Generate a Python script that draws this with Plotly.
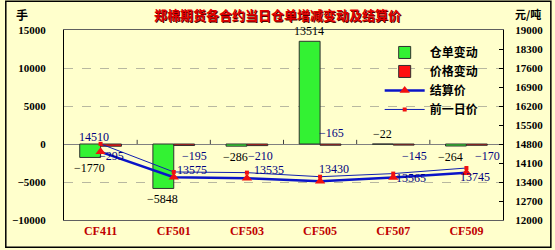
import plotly.graph_objects as go

# ---- data ----
categories = ["CF411", "CF501", "CF503", "CF505", "CF507", "CF509"]
receipt_change = [-1770, -5848, -286, 13514, -22, -264]      # 仓单变动 (手)
price_change = [-295, -195, -210, -165, -145, -170]          # 价格变动 (元/吨)
settle_price = [14510, 13575, 13535, 13430, 13565, 13745]    # 结算价
prev_price = [s - c for s, c in zip(settle_price, price_change)]  # 前一日价

left_ticks = [-10000, -5000, 0, 5000, 10000, 15000]
right_ticks = list(range(12000, 19001, 700))

# ---- layout constants ----
W, H = 555, 250
ML, MR, MT, MB = 60, 50, 30, 29
PW, PH = W - ML - MR, H - MT - MB

NAVY = "#000080"
SERIF = "Liberation Serif"
CJK = "Noto Sans CJK SC"

# label offsets (pixels) for the settlement-price labels
SETTLE_OFFS = {0: (-7, 15), 1: (18, 7), 2: (22, 8), 3: (14, 12), 4: (18, 0), 5: (9, -4)}

fig = go.Figure()

fig.add_trace(go.Bar(
    x=categories, y=receipt_change, name="仓单变动",
    marker=dict(color="#33F233", line=dict(color="#303030", width=1)),
    yaxis="y",
))
fig.add_trace(go.Bar(
    x=categories, y=price_change, name="价格变动",
    marker=dict(color="#FF1010", line=dict(color="#303030", width=1)),
    yaxis="y",
))
fig.add_trace(go.Scatter(
    x=categories, y=settle_price, name="结算价", yaxis="y2",
    mode="lines+markers",
    line=dict(color="#0A14C8", width=2.5),
    marker=dict(symbol="triangle-up", size=9, color="#F01010"),
))
fig.add_trace(go.Scatter(
    x=categories, y=prev_price, name="前一日价", yaxis="y2",
    mode="lines+markers",
    line=dict(color="#1020B0", width=1),
    marker=dict(symbol="square", size=4, color="#F01010"),
))

ann = []
lab_font = dict(family=SERIF, size=12, color="black")
nav_font = dict(family=SERIF, size=12, color=NAVY)

def minus(v):
    return f"{v}".replace("-", "−")

# 仓单变动 labels
for i, (c, v) in enumerate(zip(categories, receipt_change)):
    above = v > 0 or abs(v) < 100
    ann.append(dict(x=c, y=v if v > 0 else (0 if above else v), xref="x", yref="y",
                    text=minus(v), showarrow=False, font=lab_font,
                    xshift=-16 if i == len(categories) - 1 else -11,
                    yshift=10 if above else -11))

# 价格变动 labels
for i, (c, v) in enumerate(zip(categories, price_change)):
    up = receipt_change[i] > 10000
    xs = 11 if i == 0 else (14 if i == 2 else (11 if up else 21))
    ann.append(dict(x=c, y=0, xref="x", yref="y",
                    text=minus(v), showarrow=False, font=nav_font,
                    xshift=xs, yshift=11 if up else -12))

# 结算价 labels
for i, (c, v) in enumerate(zip(categories, settle_price)):
    xs, ys = SETTLE_OFFS[i]
    ann.append(dict(x=c, y=v, xref="x", yref="y2", text=str(v), showarrow=False,
                    font=nav_font, xshift=xs, yshift=ys))

# axis unit labels
ann.append(dict(x=-(ML - 17) / PW, y=1 + (MT - 14) / PH, xref="paper", yref="paper",
                xanchor="center", yanchor="middle",
                text="<b>手</b>", showarrow=False,
                font=dict(family=CJK, size=12, color="black")))
ann.append(dict(x=1 + (530 - ML - PW) / PW, y=1 + (MT - 14) / PH, xref="paper", yref="paper",
                xanchor="center", yanchor="middle",
                text="<b>元/吨</b>", showarrow=False,
                font=dict(family=CJK, size=11, color="black")))

shapes = []
# outer frame
shapes.append(dict(type="rect", xref="paper", yref="paper",
                   x0=-(ML - 1) / PW, x1=1 + (MR - 1.5) / PW,
                   y0=-(MB - 1.5) / PH, y1=1 + (MT - 1) / PH,
                   line=dict(color="black", width=1.5)))
# tick marks on zero line at category boundaries
for k in range(1, len(categories)):
    shapes.append(dict(type="line", xref="x", yref="y", x0=k - 0.5, x1=k - 0.5,
                       y0=0, y1=550, line=dict(color="#404040", width=1)))

fig.update_layout(
    width=W, height=H,
    margin=dict(l=ML, r=MR, t=MT, b=MB, pad=0),
    paper_bgcolor="#FFFFCC", plot_bgcolor="#FFFFCC",
    barmode="group", bargap=0.43, bargroupgap=0,
    title=dict(text="<b>郑棉期货各合约当日仓单增减变动及结算价</b>",
               x=0.5, xanchor="center", y=1 - 15 / H, yanchor="middle",
               font=dict(family=CJK, size=13, color="#E00000",
                         shadow="1px 1px 0px #500000")),
    showlegend=True,
    legend=dict(x=(380 - ML) / PW, y=(MT + PH - 38) / PH, xanchor="left", yanchor="top",
                bgcolor="rgba(0,0,0,0)", borderwidth=0,
                font=dict(family=CJK, size=12, color="black", weight="bold"),
                tracegroupgap=0, itemwidth=40),
    xaxis=dict(type="category", showline=True, linecolor="#606060", linewidth=1,
               mirror=True, ticks="", showgrid=False,
               tickfont=dict(family=SERIF, size=12, color="#C00000", weight="bold")),
    yaxis=dict(range=[-10000, 15000], tickvals=left_ticks,
               ticktext=[minus(t) for t in left_ticks],
               showline=True, linecolor="black", linewidth=1,
               showgrid=True, gridcolor="#B8B8A0", griddash="dash", gridwidth=1,
               zeroline=True, zerolinecolor="#808080", zerolinewidth=1,
               ticks="", ticklabelstandoff=15,
               tickfont=dict(family=SERIF, size=11, color="black", weight="bold")),
    yaxis2=dict(range=[12000, 19000], tickvals=right_ticks,
                ticktext=[str(t) for t in right_ticks],
                overlaying="y", side="right",
                showline=True, linecolor="black", linewidth=1, showgrid=False,
                zeroline=False, ticks="inside", ticklen=4, tickcolor="black",
                ticklabelstandoff=9,
                tickfont=dict(family=SERIF, size=11, color="black", weight="bold")),
    annotations=ann, shapes=shapes,
)

fig.write_html("out.html")
